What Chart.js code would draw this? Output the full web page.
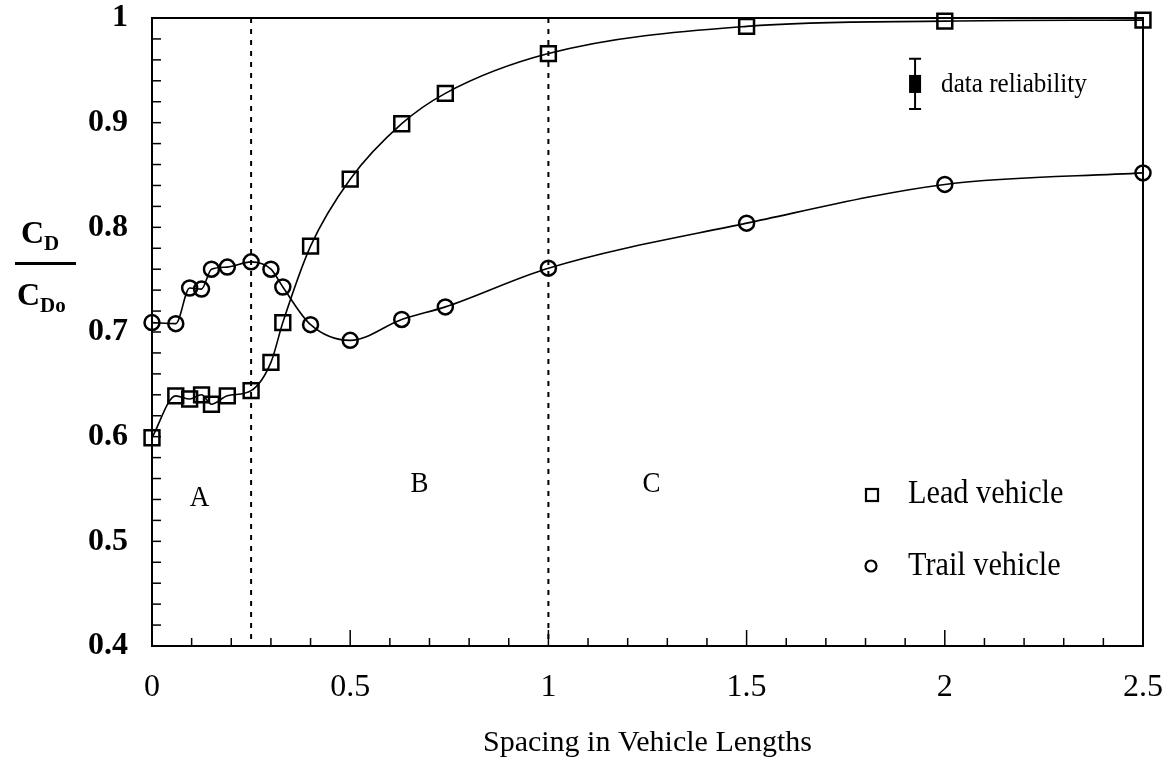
<!DOCTYPE html>
<html>
<head>
<meta charset="utf-8">
<script src="https://cdn.jsdelivr.net/npm/chart.js@4.4.1/dist/chart.umd.min.js"></script>
<style>
  body { margin: 0; background: #fff; }
  #wrap { width: 1163px; height: 761px; }
</style>
</head>
<body>
<div id="wrap"><canvas id="dragChart"></canvas></div>
<script>
// spacing (vehicle lengths) and drag ratio CD/CDo
const spacing = [0, 0.06, 0.095, 0.125, 0.15, 0.19, 0.25, 0.30, 0.33, 0.40, 0.50, 0.63, 0.74, 1.0, 1.5, 2.0, 2.5];
const leadVehicle = [0.599, 0.639, 0.636, 0.640, 0.631, 0.639, 0.644, 0.671, 0.709, 0.782, 0.846, 0.899, 0.928, 0.966, 0.992, 0.997, 0.998];
const trailVehicle = [0.709, 0.708, 0.742, 0.741, 0.760, 0.762, 0.767, 0.760, 0.743, 0.707, 0.692, 0.712, 0.724, 0.761, 0.804, 0.841, 0.852];

const regionBounds = [0.25, 1];
const regionLabels = [
  { text: "A", x: 0.12, y: 0.541 },
  { text: "B", x: 0.675, y: 0.555 },
  { text: "C", x: 1.26, y: 0.555 }
];

const SERIF = "'Liberation Serif', 'DejaVu Serif', serif";

function toPoints(xs, ys) {
  return xs.map((x, i) => ({ x: x, y: ys[i] }));
}

function squeezedText(ctx, text, x, y, font, sx, align) {
  ctx.save();
  ctx.font = font;
  ctx.textBaseline = "middle";
  ctx.textAlign = align || "left";
  ctx.translate(x, y);
  ctx.scale(sx, 1);
  ctx.fillText(text, 0, 0);
  ctx.restore();
}

// frame, inward ticks, dotted region bounds, legend, labels
const decorations = {
  id: "decorations",
  afterDraw(chart) {
    const ctx = chart.ctx;
    const xs = chart.scales.x, ys = chart.scales.y;
    const a = chart.chartArea;
    ctx.save();
    ctx.strokeStyle = "#000";
    ctx.fillStyle = "#000";

    // frame
    ctx.lineWidth = 2;
    ctx.strokeRect(a.left, a.top, a.right - a.left, a.bottom - a.top);

    // y minor ticks every 0.02
    ctx.lineWidth = 1.5;
    for (let k = 0; k <= 30; k++) {
      const py = ys.getPixelForValue(0.4 + k * 0.02);
      ctx.beginPath();
      ctx.moveTo(a.left, py);
      ctx.lineTo(a.left + 9, py);
      ctx.stroke();
    }
    // x ticks every 0.1, longer on 0.5
    for (let k = 0; k <= 25; k++) {
      const px = xs.getPixelForValue(k * 0.1);
      const len = k % 5 === 0 ? 16 : 8;
      ctx.beginPath();
      ctx.moveTo(px, a.bottom);
      ctx.lineTo(px, a.bottom - len);
      ctx.stroke();
    }

    // dotted region boundaries
    ctx.lineWidth = 2;
    ctx.setLineDash([5, 6]);
    regionBounds.forEach(b => {
      const px = xs.getPixelForValue(b);
      ctx.beginPath();
      ctx.moveTo(px, a.top);
      ctx.lineTo(px, a.bottom);
      ctx.stroke();
    });
    ctx.setLineDash([]);

    // region letters
    regionLabels.forEach(r => {
      squeezedText(ctx, r.text, xs.getPixelForValue(r.x), ys.getPixelForValue(r.y),
        "30px " + SERIF, 0.9, "center");
    });

    // data reliability symbol
    const ex = xs.getPixelForValue(1.925);
    const eTop = ys.getPixelForValue(0.961), eBot = ys.getPixelForValue(0.913);
    ctx.lineWidth = 2;
    ctx.beginPath();
    ctx.moveTo(ex, eTop); ctx.lineTo(ex, eBot);
    ctx.moveTo(ex - 6, eTop); ctx.lineTo(ex + 6, eTop);
    ctx.moveTo(ex - 6, eBot); ctx.lineTo(ex + 6, eBot);
    ctx.stroke();
    const ec = ys.getPixelForValue(0.937);
    ctx.fillRect(ex - 6, ec - 9, 12, 18);
    squeezedText(ctx, "data reliability", ex + 26, ec + 1, "27px " + SERIF, 0.93);

    // legend
    const lx = 872;
    ctx.lineWidth = 2.2;
    ctx.strokeRect(lx - 6, 489, 12, 12);
    squeezedText(ctx, "Lead vehicle", 908, 494, "34px " + SERIF, 0.89);
    ctx.beginPath();
    ctx.arc(lx - 1, 566, 5.5, 0, Math.PI * 2);
    ctx.stroke();
    squeezedText(ctx, "Trail vehicle", 908, 566, "34px " + SERIF, 0.89);

    // y axis label CD / CDo
    ctx.font = "bold 32px " + SERIF;
    ctx.textBaseline = "alphabetic";
    ctx.textAlign = "left";
    ctx.fillText("C", 21, 243);
    ctx.font = "bold 21px " + SERIF;
    ctx.fillText("D", 44, 250);
    ctx.fillRect(15, 262, 61, 3);
    ctx.font = "bold 32px " + SERIF;
    ctx.fillText("C", 17, 305);
    ctx.font = "bold 21px " + SERIF;
    ctx.fillText("Do", 40, 312);

    ctx.restore();
  }
};

const ctx = document.getElementById("dragChart").getContext("2d");

new Chart(ctx, {
  type: "scatter",
  data: {
    datasets: [
      {
        label: "Lead vehicle",
        data: toPoints(spacing, leadVehicle),
        showLine: true,
        cubicInterpolationMode: "monotone",
        borderColor: "#000",
        borderWidth: 1.6,
        pointStyle: "rect",
        pointRadius: 10.5,
        pointBorderWidth: 2.5,
        pointBorderColor: "#000",
        pointBackgroundColor: "rgba(255,255,255,0)",
        clip: false
      },
      {
        label: "Trail vehicle",
        data: toPoints(spacing, trailVehicle),
        showLine: true,
        cubicInterpolationMode: "monotone",
        borderColor: "#000",
        borderWidth: 1.6,
        pointStyle: "circle",
        pointRadius: 7.5,
        pointBorderWidth: 2.5,
        pointBorderColor: "#000",
        pointBackgroundColor: "rgba(255,255,255,0)",
        clip: false
      }
    ]
  },
  options: {
    responsive: true,
    maintainAspectRatio: false,
    animation: false,
    layout: { padding: { left: 0, right: 20, top: 18, bottom: 0 } },
    plugins: {
      legend: { display: false },
      tooltip: { enabled: false }
    },
    scales: {
      x: {
        type: "linear",
        min: 0,
        max: 2.5,
        grid: { display: false, drawTicks: false },
        border: { display: false },
        ticks: {
          stepSize: 0.5,
          padding: 22,
          color: "#000",
          font: { family: SERIF, size: 32 },
          callback: v => String(Math.round(v * 10) / 10)
        },
        title: {
          display: true,
          text: "Spacing in Vehicle Lengths",
          color: "#000",
          font: { family: SERIF, size: 30 },
          padding: { top: 4, bottom: 0 }
        },
        afterFit(scale) {
          scale.height = 115;
          scale.paddingLeft = 0;
          scale.paddingRight = 0;
        }
      },
      y: {
        min: 0.4,
        max: 1,
        grid: { display: false, drawTicks: false },
        border: { display: false },
        ticks: {
          stepSize: 0.1,
          padding: 24,
          color: "#000",
          font: { family: SERIF, size: 32, weight: "bold" },
          callback: v => (Math.abs(v - 1) < 1e-9 ? "1" : v.toFixed(1))
        },
        afterFit(scale) {
          scale.width = 152;
          scale.paddingTop = 0;
          scale.paddingBottom = 0;
        }
      }
    }
  },
  plugins: [decorations]
});
</script>
</body>
</html>
